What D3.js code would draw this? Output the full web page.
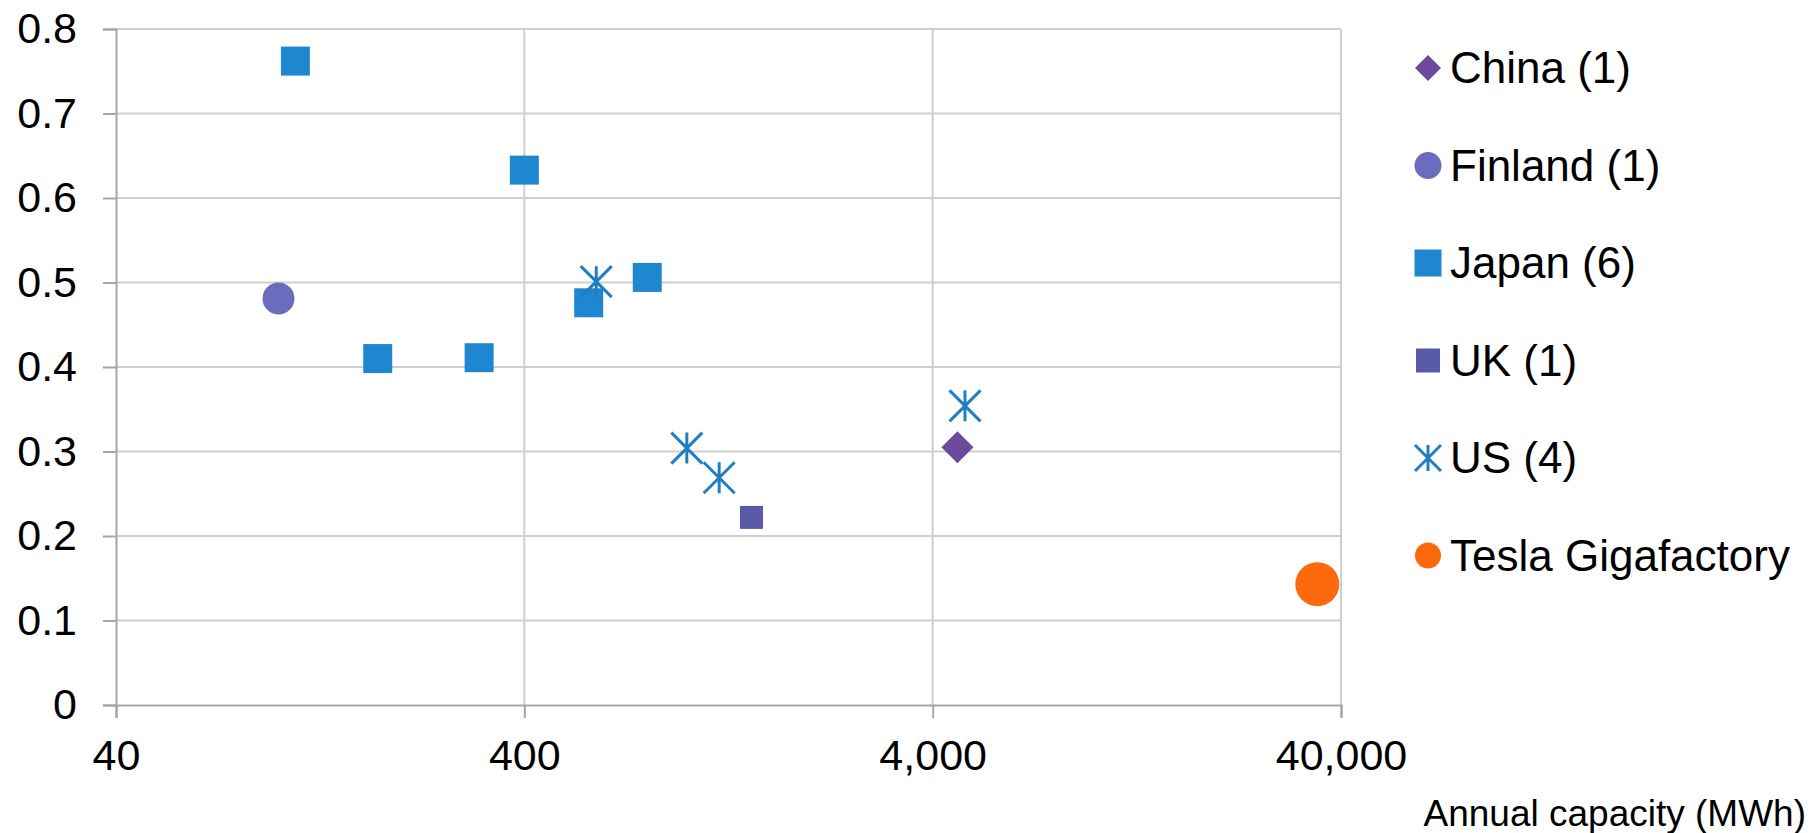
<!DOCTYPE html>
<html>
<head>
<meta charset="utf-8">
<script src="https://cdn.jsdelivr.net/npm/d3@7"></script>
<style>
  html, body { margin: 0; padding: 0; background: #ffffff; }
  svg { display: block; font-family: "Liberation Sans", Arial, sans-serif; }
</style>
</head>
<body>
<svg id="chart" width="1820" height="833"></svg>
<script>
// Annual capacity (MWh) vs. value, by country of the plant
const seriesNames = ["China (1)", "Finland (1)", "Japan (6)", "UK (1)", "US (4)", "Tesla Gigafactory"];

const chinaCapacity   = [4600];
const chinaValue      = [0.305];
const finlandCapacity = [100];
const finlandValue    = [0.481];
const japanCapacity   = [110, 400, 175, 310, 575, 800];
const japanValue      = [0.762, 0.633, 0.410, 0.411, 0.476, 0.506];
const ukCapacity      = [1440];
const ukValue         = [0.222];
const usCapacity      = [600, 1000, 1200, 4800];
const usValue         = [0.501, 0.304, 0.269, 0.354];
const teslaCapacity   = [35000];
const teslaValue      = [0.143];

const xTickValues = [40, 400, 4000, 40000];
const xTickLabels = ["40", "400", "4,000", "40,000"];
const yTickValues = [0, 0.1, 0.2, 0.3, 0.4, 0.5, 0.6, 0.7, 0.8];
const yTickLabels = ["0", "0.1", "0.2", "0.3", "0.4", "0.5", "0.6", "0.7", "0.8"];
const xAxisTitle = "Annual capacity (MWh)";

// Excel-style asterisk: a vertical stroke crossed by an X
const asteriskSymbol = {
  draw(context, size) {
    const r = Math.sqrt(size) / 2;
    context.moveTo(0, -r); context.lineTo(0, r);
    context.moveTo(-r, -r); context.lineTo(r, r);
    context.moveTo(-r, r); context.lineTo(r, -r);
  }
};

const series = [
  { name: seriesNames[0], xs: chinaCapacity,   ys: chinaValue,   shape: "diamond",  color: "#6b4a9e", size: 32, legendSize: 26 },
  { name: seriesNames[1], xs: finlandCapacity, ys: finlandValue, shape: "circle",   color: "#6c6cbf", size: 32, legendSize: 27 },
  { name: seriesNames[2], xs: japanCapacity,   ys: japanValue,   shape: "square",   color: "#1f87d0", size: 29, legendSize: 27 },
  { name: seriesNames[3], xs: ukCapacity,      ys: ukValue,      shape: "square",   color: "#5a5ba8", size: 23, legendSize: 24 },
  { name: seriesNames[4], xs: usCapacity,      ys: usValue,      shape: "asterisk", color: "#1f7fc4", size: 31, legendSize: 26 },
  { name: seriesNames[5], xs: teslaCapacity,   ys: teslaValue,   shape: "circle",   color: "#fd6a0e", size: 44, legendSize: 26 }
];

const svg = d3.select("#chart");
svg.append("rect").attr("width", 1820).attr("height", 833).attr("fill", "#ffffff");

const plot = { left: 116, right: 1341, top: 29, bottom: 705 };

const x = d3.scaleLog().domain([40, 40000]).range([plot.left, plot.right]);
const y = d3.scaleLinear().domain([0, 0.8]).range([plot.bottom, plot.top]);

// Horizontal gridlines
svg.append("g")
  .selectAll("line")
  .data(yTickValues.filter(v => v > 0))
  .join("line")
  .attr("x1", plot.left).attr("x2", plot.right)
  .attr("y1", d => y(d)).attr("y2", d => y(d))
  .attr("stroke", "#cfcfcf").attr("stroke-width", 2);

// Vertical gridlines
svg.append("g")
  .selectAll("line")
  .data(xTickValues.slice(1))
  .join("line")
  .attr("x1", d => x(d)).attr("x2", d => x(d))
  .attr("y1", plot.top).attr("y2", plot.bottom)
  .attr("stroke", "#cfcfcf").attr("stroke-width", 2);

// Y axis
const yAxis = d3.axisLeft(y)
  .tickValues(yTickValues)
  .tickFormat((d, i) => yTickLabels[i])
  .tickSize(13)
  .tickPadding(26);
const yG = svg.append("g").attr("transform", `translate(${plot.left},0)`).call(yAxis);
yG.select(".domain").attr("stroke", "#a6a6a6").attr("stroke-width", 2);
yG.selectAll(".tick line").attr("stroke", "#a6a6a6").attr("stroke-width", 2);
yG.selectAll(".tick text")
  .attr("font-size", 43)
  .attr("font-family", "Liberation Sans, Arial, sans-serif")
  .attr("fill", "#000");

// X axis
const xAxis = d3.axisBottom(x)
  .tickValues(xTickValues)
  .tickFormat((d, i) => xTickLabels[i])
  .tickSize(13)
  .tickPadding(21);
const xG = svg.append("g").attr("transform", `translate(0,${plot.bottom})`).call(xAxis);
xG.select(".domain").attr("stroke", "#a6a6a6").attr("stroke-width", 2);
xG.selectAll(".tick line").attr("stroke", "#a6a6a6").attr("stroke-width", 2);
xG.selectAll(".tick text")
  .attr("font-size", 43)
  .attr("font-family", "Liberation Sans, Arial, sans-serif")
  .attr("fill", "#000");

// X axis title
svg.append("text")
  .attr("x", 1806).attr("y", 826)
  .attr("text-anchor", "end")
  .attr("font-size", 37)
  .attr("fill", "#000")
  .text(xAxisTitle);

// Marker builder
function markerPath(shape, s) {
  if (shape === "circle") return d3.symbol().type(d3.symbolCircle).size(Math.PI * s * s / 4)();
  if (shape === "square") return d3.symbol().type(d3.symbolSquare).size(s * s)();
  if (shape === "diamond") return d3.symbol().type(d3.symbolSquare).size(s * s / 2)();
  return d3.symbol().type(asteriskSymbol).size(s * s)();
}
function styleMarker(sel, ser) {
  if (ser.shape === "asterisk") {
    sel.attr("fill", "none").attr("stroke", ser.color).attr("stroke-width", 3);
  } else {
    sel.attr("fill", ser.color).attr("stroke", "none");
  }
  return sel;
}

// Points
series.forEach(ser => {
  const pts = ser.xs.map((v, i) => [v, ser.ys[i]]);
  const g = svg.append("g");
  g.selectAll("path")
    .data(pts)
    .join("path")
    .attr("d", markerPath(ser.shape, ser.size))
    .attr("transform", d => `translate(${x(d[0])},${y(d[1])})` + (ser.shape === "diamond" ? " rotate(45)" : ""))
    .call(sel => styleMarker(sel, ser));
});

// Legend
const legendY = d3.scalePoint().domain(seriesNames).range([68, 555.5]);
const legend = svg.append("g");
series.forEach(ser => {
  const cy = legendY(ser.name);
  const m = legend.append("path")
    .attr("d", markerPath(ser.shape, ser.legendSize))
    .attr("transform", `translate(1428,${cy})` + (ser.shape === "diamond" ? " rotate(45)" : ""));
  styleMarker(m, ser);
  legend.append("text")
    .attr("x", 1450).attr("y", cy + 15)
    .attr("font-size", 44)
    .attr("fill", "#000")
    .text(ser.name);
});
</script>
</body>
</html>
